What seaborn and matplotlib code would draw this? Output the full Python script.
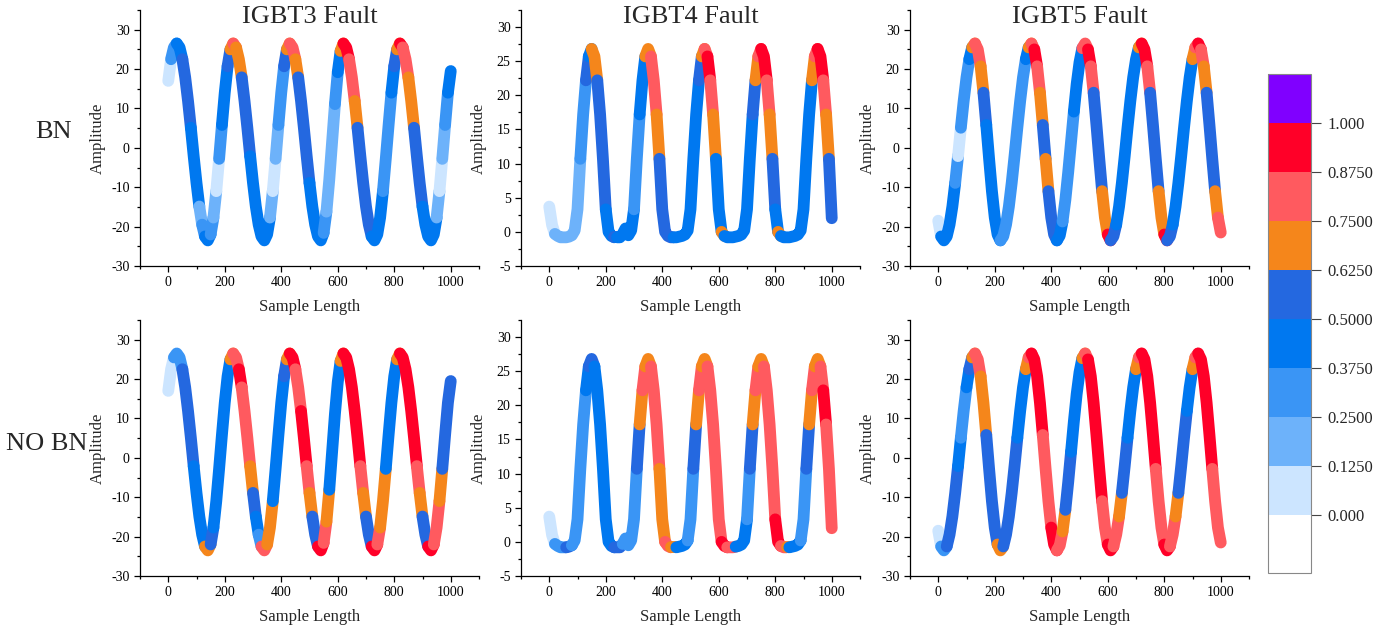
import numpy as np
import pandas as pd
import seaborn as sns
import matplotlib
matplotlib.use('Agg')
import matplotlib.pyplot as plt
from matplotlib.colors import ListedColormap, BoundaryNorm
from matplotlib.cm import ScalarMappable
from matplotlib.ticker import MultipleLocator

# waveforms, one value every 10 samples (0..1000)
igbt3_wave = [
    17.0, 22.5, 25.5, 26.5, 25.5, 22.5, 17.9, 11.9, 5.1, -2.1,
    -8.9, -14.9, -19.5, -22.5, -23.5, -22.0, -17.7, -11.0, -2.8, 5.8,
    14.0, 20.7, 25.0, 26.5, 25.5, 22.5, 17.9, 11.9, 5.1, -2.1,
    -8.9, -14.9, -19.5, -22.5, -23.5, -22.0, -17.7, -11.0, -2.8, 5.8,
    14.0, 20.7, 25.0, 26.5, 25.5, 22.5, 17.9, 11.9, 5.1, -2.1,
    -8.9, -14.9, -19.5, -22.5, -23.5, -21.6, -16.2, -8.1, 1.5, 11.1,
    19.2, 24.6, 26.5, 25.5, 22.5, 17.9, 11.9, 5.1, -2.1, -8.9,
    -14.9, -19.5, -22.5, -23.5, -22.0, -17.7, -11.0, -2.8, 5.8, 14.0,
    20.7, 25.0, 26.5, 25.5, 22.5, 17.9, 11.9, 5.1, -2.1, -8.9,
    -14.9, -19.5, -22.5, -23.5, -22.0, -17.7, -11.0, -2.8, 5.8, 14.0,
    19.5]
igbt4_wave = [
    3.7, 1.0, -0.3, -0.6, -0.8, -0.8, -0.8, -0.7, -0.5, 0.2,
    3.3, 10.7, 17.2, 22.2, 25.7, 26.8, 25.7, 22.2, 17.2, 10.7,
    3.3, 0.0, -0.6, -0.8, -0.8, -0.8, -0.3, 0.5, -0.5, 0.2,
    3.3, 10.7, 17.2, 22.2, 25.7, 26.8, 25.7, 22.2, 17.2, 10.7,
    3.3, 0.0, -0.6, -0.8, -0.8, -0.8, -0.7, -0.6, -0.4, 0.2,
    3.3, 10.7, 17.2, 22.2, 25.7, 26.8, 25.7, 22.2, 17.2, 10.7,
    3.3, 0.0, -0.6, -0.8, -0.8, -0.8, -0.7, -0.6, -0.4, 0.2,
    3.3, 10.7, 17.2, 22.2, 25.7, 26.8, 25.7, 22.2, 17.2, 10.7,
    3.3, 0.0, -0.6, -0.8, -0.8, -0.8, -0.7, -0.6, -0.4, 0.2,
    3.3, 10.7, 17.2, 22.2, 25.7, 26.8, 25.7, 22.2, 17.2, 10.7,
    2.0]
igbt5_wave = [
    -18.5, -22.5, -23.5, -22.5, -19.5, -14.9, -8.9, -2.1, 5.1, 11.9,
    17.9, 22.5, 25.5, 26.5, 25.0, 20.7, 14.0, 5.8, -2.8, -11.0,
    -17.7, -22.0, -23.5, -22.5, -19.5, -14.9, -8.9, -2.1, 5.1, 11.9,
    17.9, 22.5, 25.5, 26.5, 25.0, 20.7, 14.0, 5.8, -2.8, -11.0,
    -17.7, -22.0, -23.5, -22.3, -18.7, -13.2, -6.2, 1.5, 9.2, 16.2,
    21.7, 25.3, 26.5, 25.0, 20.7, 14.0, 5.8, -2.8, -11.0, -17.7,
    -22.0, -23.5, -22.5, -19.5, -14.9, -8.9, -2.1, 5.1, 11.9, 17.9,
    22.5, 25.5, 26.5, 25.0, 20.7, 14.0, 5.8, -2.8, -11.0, -17.7,
    -22.0, -23.5, -22.5, -19.5, -14.9, -8.9, -2.1, 5.1, 11.9, 17.9,
    22.5, 25.5, 26.5, 25.0, 20.7, 14.0, 5.8, -2.8, -11.0, -17.7,
    -21.5]

# importance bin along each trace: (end sample, bin index), bin 0 = 0-0.125 ... 7 = 0.875-1
igbt3_bn = [(10, 0), (30, 2), (50, 3), (80, 4), (110, 3), (120, 1), (130, 2), (150, 3),
            (160, 2), (170, 1), (180, 0), (190, 2), (210, 3), (220, 4), (230, 5), (240, 6),
            (260, 5), (290, 4), (360, 3), (370, 1), (380, 0), (390, 1), (410, 2), (420, 4),
            (430, 5), (450, 6), (460, 5), (500, 4), (550, 3), (560, 2), (590, 1), (600, 2),
            (610, 3), (620, 5), (640, 7), (660, 6), (670, 5), (720, 4), (760, 3), (790, 2),
            (800, 3), (810, 4), (820, 5), (830, 7), (850, 6), (870, 5), (900, 4), (950, 3),
            (960, 1), (970, 0), (980, 1), (990, 2), (1000, 3)]
igbt3_nobn = [(20, 0), (50, 2), (90, 4), (130, 3), (150, 5), (160, 4), (220, 3), (230, 5),
              (250, 6), (260, 7), (290, 6), (300, 5), (310, 4), (320, 3), (330, 2), (350, 6),
              (370, 5), (410, 3), (420, 4), (430, 5), (450, 7), (470, 6), (490, 7), (500, 6),
              (510, 5), (530, 4), (550, 7), (560, 6), (570, 5), (610, 3), (620, 5), (680, 7),
              (690, 6), (700, 5), (720, 4), (740, 7), (750, 6), (770, 5), (810, 3), (820, 5),
              (880, 7), (890, 6), (900, 5), (920, 4), (940, 7), (960, 6), (970, 5), (1000, 4)]
igbt4_bn = [(20, 0), (110, 1), (130, 2), (140, 4), (150, 3), (170, 5), (200, 4), (230, 3),
            (240, 4), (300, 3), (320, 2), (340, 3), (360, 5), (380, 6), (390, 5), (440, 4),
            (530, 3), (540, 4), (550, 5), (560, 6), (570, 7), (580, 6), (590, 5), (610, 3),
            (620, 5), (720, 3), (730, 4), (740, 5), (750, 6), (770, 7), (780, 6), (790, 5),
            (800, 4), (810, 3), (820, 5), (930, 3), (940, 5), (950, 6), (970, 7), (980, 6),
            (990, 5), (1000, 4)]
igbt4_nobn = [(20, 0), (60, 2), (80, 4), (130, 2), (140, 3), (160, 4), (230, 3), (260, 4),
              (310, 2), (320, 4), (330, 5), (340, 6), (360, 5), (390, 6), (410, 5), (430, 6),
              (450, 5), (490, 3), (510, 2), (520, 4), (530, 5), (540, 6), (560, 5), (610, 6),
              (630, 7), (660, 6), (700, 3), (710, 2), (720, 4), (730, 5), (740, 6), (760, 5),
              (800, 6), (820, 7), (840, 6), (850, 5), (890, 3), (910, 2), (920, 4), (930, 5),
              (940, 6), (960, 5), (970, 6), (980, 7), (1000, 6)]
igbt5_bn = [(10, 0), (60, 3), (70, 2), (80, 0), (110, 2), (120, 3), (130, 5), (150, 6),
            (160, 5), (170, 4), (220, 3), (310, 2), (320, 3), (330, 5), (340, 6), (350, 7),
            (360, 6), (370, 5), (380, 4), (390, 5), (420, 4), (440, 3), (480, 2), (510, 3),
            (530, 6), (540, 7), (550, 6), (580, 4), (600, 5), (610, 7), (630, 4), (710, 3),
            (720, 5), (740, 7), (750, 6), (780, 4), (800, 5), (810, 7), (830, 4), (900, 3),
            (910, 5), (920, 6), (930, 7), (940, 6), (950, 5), (980, 4), (990, 5), (1000, 6)]
igbt5_nobn = [(10, 0), (30, 2), (70, 4), (80, 3), (100, 2), (110, 3), (120, 4), (130, 5),
              (150, 6), (170, 5), (210, 4), (230, 5), (280, 4), (310, 3), (320, 5), (330, 6),
              (370, 7), (400, 6), (420, 7), (440, 6), (450, 5), (470, 4), (510, 3), (520, 5),
              (530, 6), (580, 7), (600, 6), (620, 7), (640, 6), (650, 5), (670, 4), (700, 3),
              (710, 5), (720, 6), (770, 7), (800, 6), (820, 7), (840, 6), (850, 5), (880, 4),
              (900, 3), (910, 5), (920, 6), (970, 7), (1000, 6)]

bin_colors = ['#cce5ff', '#6db2fa', '#3a95f5', '#0078f0', '#2468e0',
              '#f5861b', '#ff5a5f', '#ff0028']
over_color = '#8000ff'
bin_edges = [0, 0.125, 0.25, 0.375, 0.5, 0.625, 0.75, 0.875, 1.0]
bin_labels = ['0.000', '0.1250', '0.2500', '0.3750', '0.5000',
              '0.6250', '0.7500', '0.8750', '1.000']

faults = ['IGBT3 Fault', 'IGBT4 Fault', 'IGBT5 Fault']
row_names = ['BN', 'NO BN']
waves = [igbt3_wave, igbt4_wave, igbt5_wave]
traces = [[igbt3_bn, igbt4_bn, igbt5_bn], [igbt3_nobn, igbt4_nobn, igbt5_nobn]]
ylims = [(-30, 35), (-5, 32.5), (-30, 35)]
ysteps = [10, 5, 10]


def build_frame(wave, segs):
    recs = []
    start = 0
    for k, (end, b) in enumerate(segs):
        for s in range(start, end + 1, 10):
            recs.append((s, wave[s // 10], 'r%d' % k))
        start = end
    pal = {'r%d' % k: bin_colors[b] for k, (end, b) in enumerate(segs)}
    return pd.DataFrame(recs, columns=['sample', 'amp', 'run']), pal


sns.set_style('ticks')
plt.rcParams['font.family'] = ['Liberation Serif', 'DejaVu Serif']
plt.rcParams['axes.unicode_minus'] = False
plt.rcParams['axes.linewidth'] = 0.9

W, H = 1393, 626
fig = plt.figure(figsize=(W / 100, H / 100), dpi=100)

col_left = [140, 521, 910]
row_top = [10, 320]
ax_w, ax_h = 339, 256

for r in range(2):
    for c in range(3):
        ax = fig.add_axes([col_left[c] / W, 1 - (row_top[r] + ax_h) / H, ax_w / W, ax_h / H])
        df, pal = build_frame(waves[c], traces[r][c])
        sns.lineplot(data=df, x='sample', y='amp', hue='run', palette=pal,
                     estimator=None, sort=False, legend=False, ax=ax,
                     lw=8.5, solid_capstyle='round')
        ax.set_xlim(-100, 1100)
        ax.set_ylim(*ylims[c])
        ax.xaxis.set_major_locator(MultipleLocator(200))
        ax.xaxis.set_minor_locator(MultipleLocator(100))
        ax.yaxis.set_major_locator(MultipleLocator(ysteps[c]))
        ax.yaxis.set_minor_locator(MultipleLocator(ysteps[c] / 2))
        ax.tick_params(which='major', length=4, width=0.9, labelsize=10, colors='black')
        ax.tick_params(which='minor', length=2.5, width=0.9, colors='black')
        for sp in ['left', 'bottom']:
            ax.spines[sp].set_color('black')
        sns.despine(ax=ax)
        ax.set_xlabel('Sample Length', fontsize=12)
        ax.set_ylabel('Amplitude', fontsize=12)
        ax.xaxis.set_label_coords(0.5, -0.13)
        ax.yaxis.set_label_coords(-0.1, 0.5)
        if r == 0:
            ax.text(0.5, 0.972, faults[c], transform=ax.transAxes, ha='center',
                    va='center', fontsize=19)

fig.text(54 / W, 1 - 132 / H, row_names[0], ha='center', va='center', fontsize=19)
fig.text(47 / W, 1 - 444 / H, row_names[1], ha='center', va='center', fontsize=19)

cmap = ListedColormap(bin_colors)
cmap.set_under('white')
cmap.set_over(over_color)
norm = BoundaryNorm(bin_edges, cmap.N)
cax = fig.add_axes([1268 / W, 1 - 573 / H, 43 / W, 499 / H])
cb = fig.colorbar(ScalarMappable(norm=norm, cmap=cmap), cax=cax, extend='both',
                  extendrect=True, extendfrac=(0.148, 0.125), ticks=bin_edges)
cb.ax.set_yticklabels(bin_labels)
cb.ax.tick_params(labelsize=12, length=7, width=0.8, pad=5, color='#444444')
cb.outline.set_edgecolor('#888888')
cb.outline.set_linewidth(0.8)

fig.savefig('out.png', dpi=100)
